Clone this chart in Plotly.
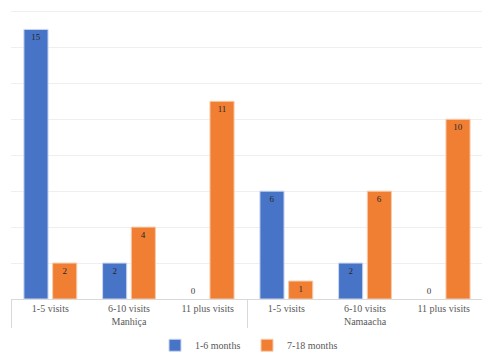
import plotly.graph_objects as go

sites = ["Manhiça", "Manhiça", "Manhiça", "Namaacha", "Namaacha", "Namaacha"]
visits = ["1-5 visits", "6-10 visits", "11 plus visits", "1-5 visits", "6-10 visits", "11 plus visits"]
months_1_6 = [15, 2, 0, 6, 2, 0]
months_7_18 = [2, 4, 11, 1, 6, 10]

FONT = "Liberation Serif"

def positions(vals):
    return ["outside" if v == 0 else "inside" for v in vals]

def borders(vals):
    return [0 if v == 0 else 1 for v in vals]

fig = go.Figure()
for name, vals, col, edge in [("1-6 months", months_1_6, "#4874C8", "#C9D6EF"),
                              ("7-18 months", months_7_18, "#F07F33", "#F8CBAD")]:
    fig.add_trace(go.Bar(
        name=name, x=[sites, visits], y=vals,
        marker=dict(color=col, line=dict(color=edge, width=borders(vals))),
        text=[str(v) for v in vals], textposition=positions(vals),
        insidetextanchor="end", textangle=0, constraintext="none",
        textfont=dict(family=FONT, size=9, color="#262626"),
        outsidetextfont=dict(family=FONT, size=9, color="#404040"),
        cliponaxis=False,
    ))

# page body has an 8px margin, so the figure is sized to fill the rest of the window
fig.update_layout(
    width=482, height=349,
    margin=dict(l=3, r=7, t=2, b=58, autoexpand=False),
    paper_bgcolor="white", plot_bgcolor="white",
    barmode="group", bargap=0.27, bargroupgap=0.16,
    font=dict(family=FONT, size=10, color="#595959"),
    showlegend=True,
    legend=dict(orientation="h", x=0.5, xanchor="center", y=-0.16, yanchor="middle",
                font=dict(family=FONT, size=10, color="#595959"),
                itemwidth=30, entrywidth=47, entrywidthmode="pixels", tracegroupgap=0),
    xaxis=dict(type="multicategory", showline=True, linecolor="#D9D9D9", linewidth=1,
               showdividers=True, dividercolor="#D9D9D9", dividerwidth=1,
               automargin=False,
               tickfont=dict(family=FONT, size=10, color="#595959"), ticks=""),
    yaxis=dict(range=[0, 16.08], tickvals=[0, 2, 4, 6, 8, 10, 12, 14, 16],
               showticklabels=False, showgrid=True,
               gridcolor="#EFEFEF", gridwidth=1, zeroline=False, showline=False,
               automargin=False),
)

fig.write_html("out.html")
